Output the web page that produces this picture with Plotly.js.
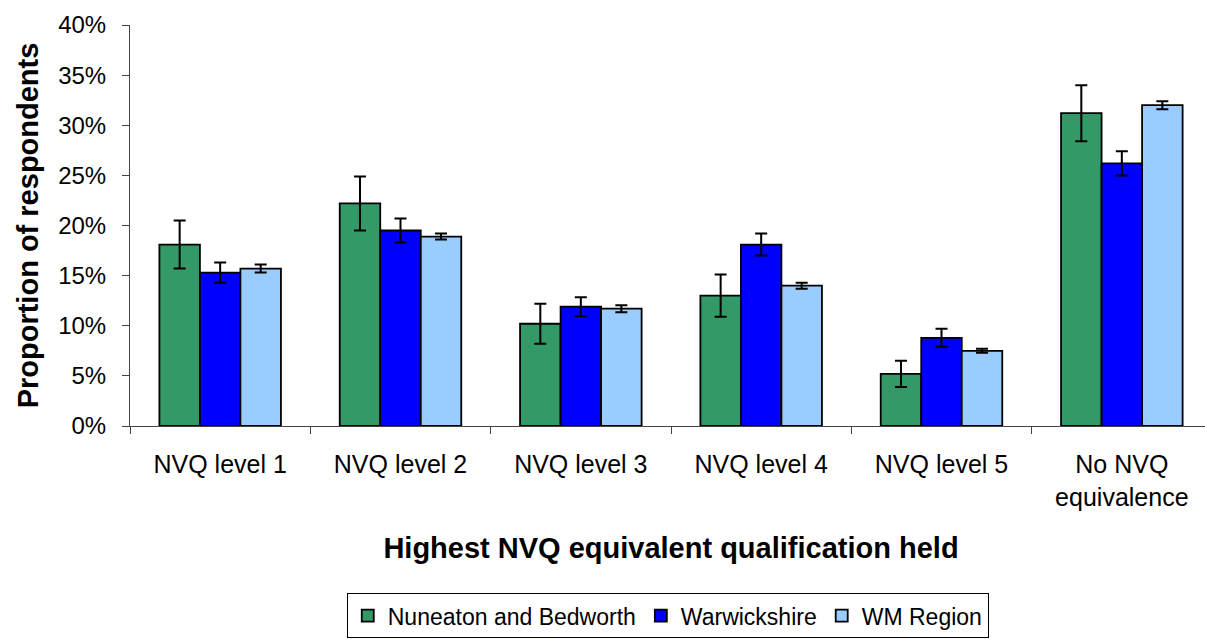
<!DOCTYPE html>
<html>
<head>
<meta charset="utf-8">
<script src="https://cdn.plot.ly/plotly-3.0.1.min.js"></script>
<style>
html, body { margin: 0; padding: 0; overflow: hidden; background: #fff; }
#chart { width: 1215px; height: 642px; }
</style>
</head>
<body>
<div id="chart"></div>
<script>
const categories = ["NVQ level 1", "NVQ level 2", "NVQ level 3", "NVQ level 4", "NVQ level 5", "No NVQ<br>equivalence"];
const seriesNames = ["Nuneaton and Bedworth", "Warwickshire", "WM Region"];
const nuneatonValues = [18.1, 22.2, 10.2, 13.0, 5.2, 31.2];
const nuneatonErrors = [2.4, 2.7, 2.0, 2.1, 1.3, 2.8];
const warwickValues = [15.3, 19.5, 11.9, 18.1, 8.8, 26.2];
const warwickErrors = [1.0, 1.2, 0.95, 1.1, 0.9, 1.2];
const wmValues = [15.7, 18.9, 11.7, 14.0, 7.5, 32.0];
const wmErrors = [0.4, 0.3, 0.35, 0.3, 0.2, 0.4];
const colors = ["#339966", "#0000FF", "#99CCFF"];

const seriesValues = [nuneatonValues, warwickValues, wmValues];
const seriesErrors = [nuneatonErrors, warwickErrors, wmErrors];

const data = seriesNames.map((name, i) => ({
  type: "bar",
  name: name,
  x: categories,
  y: seriesValues[i],
  marker: { color: colors[i], line: { color: "#000", width: 1.8 } },
  error_y: { type: "data", array: seriesErrors[i], visible: true, color: "#000", thickness: 2, width: 6 },
  hoverinfo: "none"
}));

const layout = {
  width: 1215,
  height: 642,
  margin: { l: 130, r: 3, t: 25, b: 216 },
  paper_bgcolor: "#fff",
  plot_bgcolor: "#fff",
  barmode: "group",
  bargap: 0.326,
  bargroupgap: 0,
  font: { family: "Liberation Sans, Arial, sans-serif", color: "#000", size: 24 },
  xaxis: {
    type: "category",
    showline: true,
    linecolor: "#444",
    linewidth: 1,
    ticks: "outside",
    tickson: "boundaries",
    ticklen: 7,
    tickcolor: "#444",
    showgrid: false,
    tickfont: { size: 25 },
    ticklabelstandoff: 16,
    title: { text: "<b>Highest NVQ equivalent qualification held</b>", font: { size: 29 }, standoff: 28 },
    automargin: false
  },
  yaxis: {
    range: [0, 40],
    tick0: 0,
    dtick: 5,
    ticksuffix: "%",
    showline: true,
    linecolor: "#444",
    linewidth: 1,
    ticks: "outside",
    ticklen: 7,
    tickcolor: "#444",
    showgrid: false,
    zeroline: false,
    tickfont: { size: 24 },
    ticklabelstandoff: 11,
    title: { text: "<b>Proportion of respondents</b>", font: { size: 29 }, standoff: 11 },
    automargin: false
  },
  showlegend: true,
  legend: {
    orientation: "h",
    x: 0.497,
    xanchor: "center",
    y: -0.529,
    yanchor: "bottom",
    bordercolor: "#000",
    borderwidth: 1,
    font: { size: 23 },
    itemwidth: 30,
    traceorder: "normal"
  }
};

Plotly.newPlot("chart", data, layout, { displayModeBar: false, staticPlot: true });
</script>
</body>
</html>
